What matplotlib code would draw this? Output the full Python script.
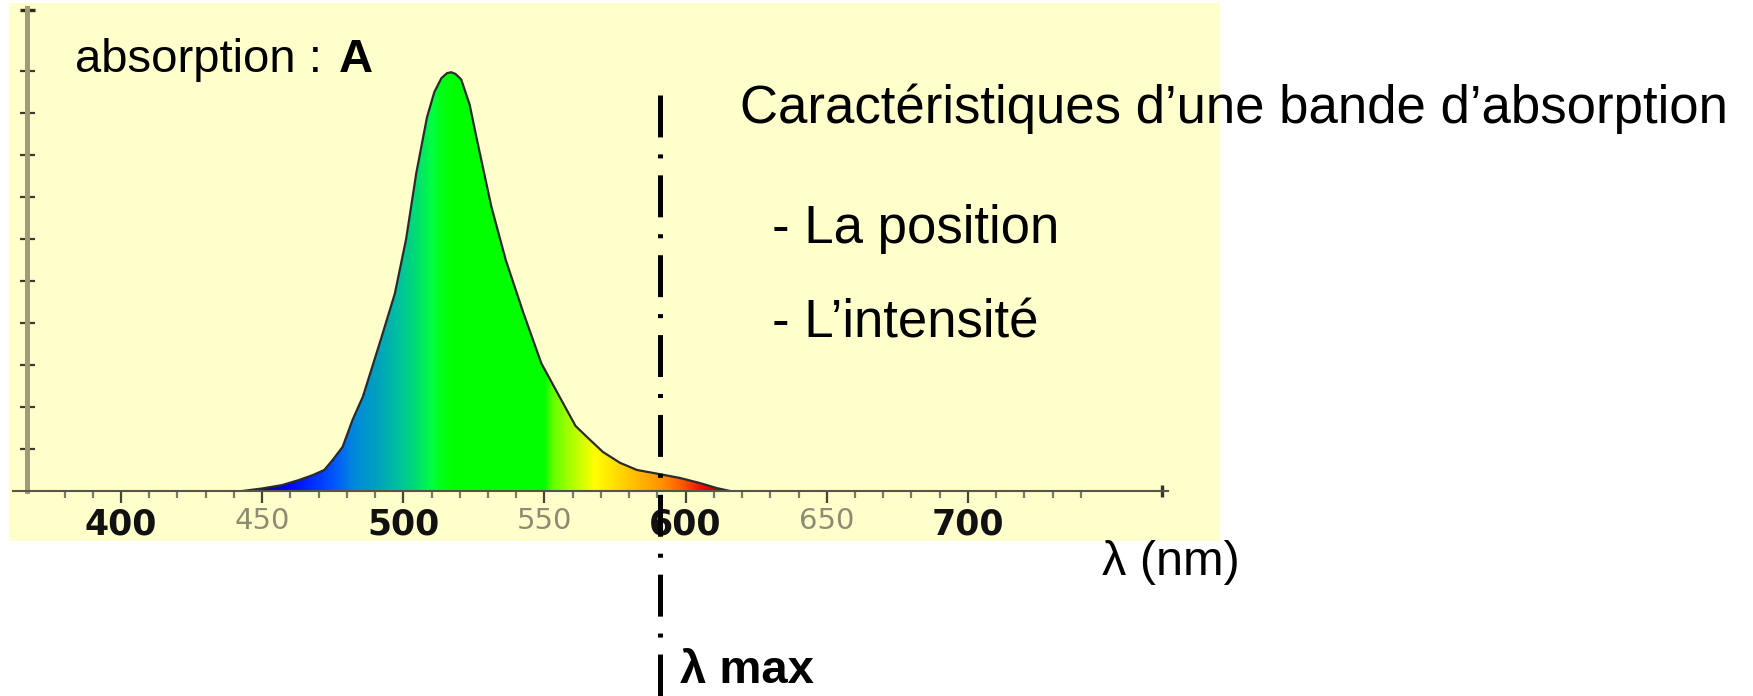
import numpy as np
import matplotlib
matplotlib.use("Agg")
import matplotlib.pyplot as plt
from matplotlib.colors import LinearSegmentedColormap
from matplotlib.patches import Rectangle

plt.rcParams['lines.scale_dashes'] = False

W, H = 1753, 696

# absorption band (wavelength in nm, absorbance in tick units)
wavelength = [443, 450, 457, 463, 468, 472, 475, 478.5, 482, 485.7, 492, 497, 501,
              504.6, 508.4, 511, 513.5, 515.5, 517, 518.5, 520.5, 523.5, 526.1,
              531.2, 536.3, 542.6, 548.9, 555.3, 561, 565, 570.7, 576.8, 582.8,
              591, 598, 605, 611, 615.7]
absorbance = [0, 0.06, 0.14, 0.26, 0.38, 0.50, 0.74, 1.05, 1.69, 2.25, 3.6, 4.7, 6.0,
              7.57, 8.9, 9.5, 9.83, 9.95, 9.97, 9.93, 9.8, 9.2, 8.36,
              6.77, 5.5, 4.23, 3.04, 2.25, 1.55, 1.29, 0.93, 0.67, 0.50,
              0.40, 0.31, 0.19, 0.07, 0]

lambda_max = 591

major_ticks = [400, 450, 500, 550, 600, 650, 700]
major_labels = ['400', '450', '500', '550', '600', '650', '700']
bold_labels = ['400', '500', '600', '700']
minor_ticks = [v for v in range(380, 750, 10) if v not in major_ticks]
y_ticks = list(range(1, 11))

# colours of the visible spectrum used to paint the band
spec_nm = [440, 450, 458, 468, 475, 482, 490, 498, 505, 510, 514, 520, 550, 553,
           560, 568, 575, 585, 592, 600, 607, 612, 617]
spec_col = ['#200040', '#1a0090', '#0000ff', '#0030ff', '#0055ff', '#0088dd',
            '#00a0c0', '#00c0a0', '#00e070', '#00ff40', '#00ff10', '#00ff00',
            '#00ff00', '#60ff00', '#b0ff00', '#ffff00', '#ffe000', '#ffb000',
            '#ff9000', '#ff5000', '#f00000', '#c00000', '#a00000']


def px2lam(px):
    return 400 + (px - 121) / 2.823


def px2a(py):
    return (491 - py) / 42.0


fig = plt.figure(figsize=(W / 100, H / 100), dpi=100)
fig.patch.set_facecolor('white')
fig.add_artist(Rectangle((9 / W, 1 - 541 / H), 1211 / W, 538 / H,
                         transform=fig.transFigure, facecolor='#ffffcc',
                         edgecolor='none', zorder=-5))

ax = fig.add_axes([13 / W, 1 - 491 / H, (1168 - 13) / W, (491 - 8) / H])
ax.set_facecolor('none')

# spectral fill clipped to the band
lo, hi = spec_nm[0], spec_nm[-1]
cmap = LinearSegmentedColormap.from_list(
    'spec', [((n - lo) / (hi - lo), c) for n, c in zip(spec_nm, spec_col)])
band = ax.fill_between(wavelength, absorbance, 0, facecolor='none', edgecolor='none')
img = ax.imshow(np.linspace(0, 1, 800)[None, :], extent=[lo, hi, 0, 10.3],
                aspect='auto', cmap=cmap, origin='lower', interpolation='bilinear',
                zorder=1)
img.set_clip_path(band.get_paths()[0], transform=ax.transData)
ax.plot(wavelength, absorbance, color='#2b2b2b', lw=1.6, zorder=2,
        solid_joinstyle='round')

ax.set_xlim(px2lam(13), px2lam(1168))
ax.set_ylim(0, px2a(8))

for s in ['top', 'right']:
    ax.spines[s].set_visible(False)
ax.spines['left'].set_position(('data', px2lam(27)))
ax.spines['left'].set_color('#a09c78')
ax.spines['left'].set_linewidth(3.6)
ax.spines['bottom'].set_color('#55554a')
ax.spines['bottom'].set_linewidth(1.5)

ax.set_yticks(y_ticks)
ax.tick_params(axis='y', direction='inout', length=10.8, width=1.6,
               color='#3a3a30', labelleft=False)
ax.plot([px2lam(27)], [px2a(10)], marker='_', ms=10.8, mew=2.4, color='#2a2a20',
        clip_on=False)

ax.set_xticks(major_ticks)
ax.set_xticklabels(major_labels)
ax.set_xticks(minor_ticks, minor=True)
ax.tick_params(axis='x', which='major', direction='out', length=8.6, width=1.6,
               color='#444438', pad=3)
ax.tick_params(axis='x', which='minor', direction='out', length=5, width=1.6,
               color='#7a7a62')
for tick, lab in zip(ax.xaxis.get_major_ticks(), ax.get_xticklabels()):
    lab.set_fontfamily('DejaVu Sans')
    if lab.get_text() in bold_labels:
        lab.set_fontweight('bold')
        lab.set_fontsize(25)
        lab.set_color('#111111')
    else:
        lab.set_fontsize(21)
        lab.set_color('#8c8c74')
        tick.tick1line.set_color('#8a8a70')

# arrow end of the wavelength axis
ax.plot([px2lam(1162)], [0], marker='|', ms=8, mew=2.4, color='#333333', clip_on=False)

# lambda max dash-dot line
ax.plot([lambda_max, lambda_max], [px2a(95), px2a(700)], color='black', lw=3.6,
        linestyle=(0, (30.2, 12.2, 2.9, 12.2)), clip_on=False, zorder=3)

fam = ['Liberation Sans', 'DejaVu Sans']


def ftext(x, y, s, **kw):
    fig.text(x / W, 1 - y / H, s, family=fam, va='baseline', ha='left', **kw)


ftext(75, 72, 'absorption :', fontsize=34)
ftext(339, 72, 'A', fontsize=34, fontweight='bold')
ftext(740, 123, 'Caractéristiques d’une bande d’absorption', fontsize=38)
ftext(772, 243, '- La position', fontsize=38)
ftext(772, 338, '- L’intensité', fontsize=38)
ftext(1102, 575, 'λ (nm)', fontsize=35)
ftext(680, 683, 'λ max', fontsize=34, fontweight='bold')

fig.savefig('out.png', dpi=100)
